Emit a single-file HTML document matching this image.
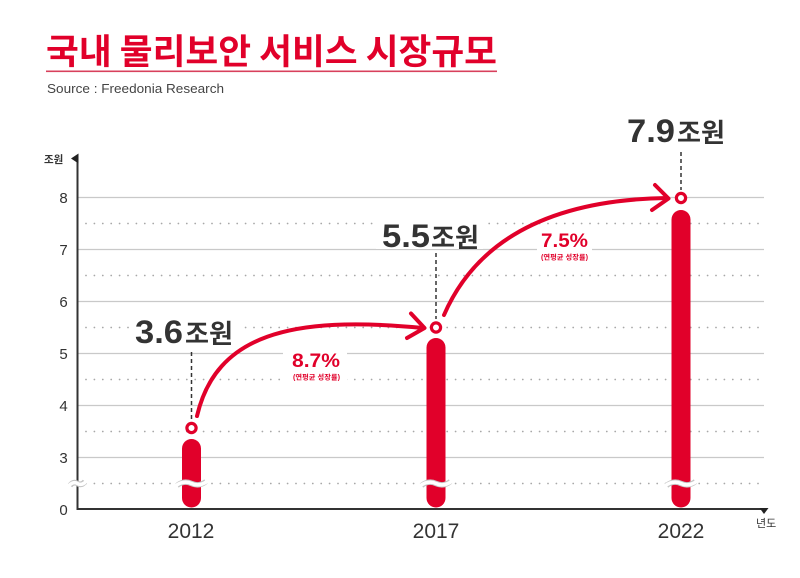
<!DOCTYPE html>
<html><head><meta charset="utf-8"><style>
html,body{margin:0;padding:0;background:#fff;}
svg{display:block;}
</style></head><body>
<svg width="800" height="578" viewBox="0 0 800 578" xmlns="http://www.w3.org/2000/svg">
<rect width="800" height="578" fill="#fff"/>
<!-- title -->
<text x="46" y="64" font-family="'Noto Sans CJK KR', sans-serif" font-weight="bold" font-size="35" fill="#e1002a" textLength="451" lengthAdjust="spacingAndGlyphs">국내 물리보안 서비스 시장규모</text>
<rect x="46" y="70.5" width="451" height="1.6" fill="#d8405c"/>
<text x="47" y="93" font-family="'Liberation Sans', sans-serif" font-size="13" fill="#444" textLength="177" lengthAdjust="spacingAndGlyphs">Source : Freedonia Research</text>

<!-- gridlines solid -->
<g stroke="#c9c9c9" stroke-width="1.3">
<line x1="78" y1="197.5" x2="764" y2="197.5"/>
<line x1="78" y1="249.5" x2="764" y2="249.5"/>
<line x1="78" y1="301.5" x2="764" y2="301.5"/>
<line x1="78" y1="353.5" x2="764" y2="353.5"/>
<line x1="78" y1="405.5" x2="764" y2="405.5"/>
<line x1="78" y1="457.5" x2="764" y2="457.5"/>
</g>
<!-- dotted -->
<g stroke="#a8a8a8" stroke-width="1.8" stroke-linecap="round" stroke-dasharray="0 8.4">
<line x1="86" y1="223.5" x2="760" y2="223.5"/>
<line x1="86" y1="275.5" x2="760" y2="275.5"/>
<line x1="86" y1="327.5" x2="760" y2="327.5"/>
<line x1="86" y1="379.5" x2="760" y2="379.5"/>
<line x1="86" y1="431.5" x2="760" y2="431.5"/>
<line x1="86" y1="483.5" x2="760" y2="483.5"/>
</g>

<!-- white backgrounds behind labels -->
<rect x="129" y="316" width="113" height="30" fill="#fff"/>
<rect x="376" y="219" width="107" height="30" fill="#fff"/>
<rect x="283" y="344" width="64" height="40" fill="#fff"/>
<rect x="537" y="228" width="55" height="33" fill="#fff"/>

<!-- y axis -->
<line x1="77.5" y1="156" x2="77.5" y2="510" stroke="#333" stroke-width="2"/>
<polygon points="71,158.5 78.5,153.5 78.5,163.5" fill="#222"/>
<!-- x axis -->
<line x1="76.5" y1="509" x2="765" y2="509" stroke="#333" stroke-width="2"/>
<polygon points="759.5,508 768.5,508 764,514" fill="#222"/>

<!-- y labels -->
<g font-family="'Liberation Sans', sans-serif" font-size="15" fill="#333" text-anchor="middle">
<text x="63.5" y="203">8</text>
<text x="63.5" y="255">7</text>
<text x="63.5" y="307">6</text>
<text x="63.5" y="359">5</text>
<text x="63.5" y="411">4</text>
<text x="63.5" y="463">3</text>
<text x="63.5" y="515">0</text>
</g>
<text x="44" y="163" font-family="'Noto Sans CJK KR', sans-serif" font-weight="bold" font-size="10.5" fill="#333">조원</text>
<text x="756" y="527" font-family="'Noto Sans CJK KR', sans-serif" font-size="11" fill="#333">년도</text>

<!-- x labels -->
<g font-family="'Liberation Sans', sans-serif" font-size="21" fill="#333" text-anchor="middle">
<text x="191" y="538">2012</text>
<text x="436" y="538">2017</text>
<text x="681" y="538">2022</text>
</g>

<!-- bars -->
<g stroke="#e1002a" stroke-width="19" stroke-linecap="round">
<line x1="191.5" y1="448.5" x2="191.5" y2="498"/>
<line x1="436" y1="347.5" x2="436" y2="498"/>
<line x1="681" y1="219.5" x2="681" y2="498"/>
</g>

<!-- break marks -->
<g fill="none">
<g stroke="#c4c4c4" stroke-width="5.5">
<path d="M177 485.5 Q184 480 191.5 483.5 T206 481.5"/>
<path d="M421.5 485.5 Q428.5 480 436 483.5 T450.5 481.5"/>
<path d="M666.5 485.5 Q673.5 480 681 483.5 T695.5 481.5"/>
<path d="M70 485.5 Q73.5 481 77.5 483.5 T85 481.5"/>
</g>
<g stroke="#fff" stroke-width="3.5">
<path d="M176 485.5 Q184 480 191.5 483.5 T207 481.5"/>
<path d="M420.5 485.5 Q428.5 480 436 483.5 T451.5 481.5"/>
<path d="M665.5 485.5 Q673.5 480 681 483.5 T696.5 481.5"/>
<path d="M69 485.5 Q73.5 481 77.5 483.5 T86 481.5"/>
</g>
</g>

<!-- dashed leaders -->
<g stroke="#333" stroke-width="1.5" stroke-dasharray="4 3">
<line x1="191.5" y1="352" x2="191.5" y2="420"/>
<line x1="436" y1="253" x2="436" y2="319"/>
<line x1="681" y1="152" x2="681" y2="190"/>
</g>

<!-- arcs -->
<g fill="none" stroke="#e1002a" stroke-width="4" stroke-linecap="round" stroke-linejoin="round">
<path d="M197 416 C216 335, 290 315, 423 328"/>
<polyline points="411,313.5 424.5,328 407,338"/>
<path d="M444 315 C470 255, 530 200, 667 198"/>
<polyline points="655,185 668.5,198.5 652,210"/>
</g>

<!-- circles -->
<g fill="#fff" stroke="#e1002a" stroke-width="3.2">
<circle cx="191.5" cy="428" r="4.6"/>
<circle cx="436" cy="327.5" r="4.6"/>
<circle cx="681" cy="198" r="4.6"/>
</g>

<!-- value labels -->
<g fill="#333">
<text x="135" y="343" font-family="'Liberation Sans', sans-serif" font-weight="bold" font-size="32" textLength="48" lengthAdjust="spacingAndGlyphs">3.6</text>
<text x="185" y="343" font-family="'Noto Sans CJK KR', sans-serif" font-weight="bold" font-size="26" textLength="48" lengthAdjust="spacingAndGlyphs">조원</text>
<text x="382" y="247" font-family="'Liberation Sans', sans-serif" font-weight="bold" font-size="32" textLength="48" lengthAdjust="spacingAndGlyphs">5.5</text>
<text x="431" y="247" font-family="'Noto Sans CJK KR', sans-serif" font-weight="bold" font-size="26" textLength="48" lengthAdjust="spacingAndGlyphs">조원</text>
<text x="627" y="142" font-family="'Liberation Sans', sans-serif" font-weight="bold" font-size="32" textLength="48" lengthAdjust="spacingAndGlyphs">7.9</text>
<text x="677" y="142" font-family="'Noto Sans CJK KR', sans-serif" font-weight="bold" font-size="26" textLength="48" lengthAdjust="spacingAndGlyphs">조원</text>
</g>

<!-- growth labels -->
<g fill="#e1002a" font-family="'Liberation Sans', 'Noto Sans CJK KR', sans-serif" font-weight="bold">
<text x="292" y="367" font-size="19.5" textLength="48" lengthAdjust="spacingAndGlyphs">8.7%</text>
<text x="293" y="379.5" font-size="7" textLength="47" lengthAdjust="spacingAndGlyphs">(연평균 성장률)</text>
<text x="541" y="247" font-size="19.5" textLength="47" lengthAdjust="spacingAndGlyphs">7.5%</text>
<text x="541" y="259.5" font-size="7" textLength="47" lengthAdjust="spacingAndGlyphs">(연평균 성장률)</text>
</g>
</svg>
</body></html>
